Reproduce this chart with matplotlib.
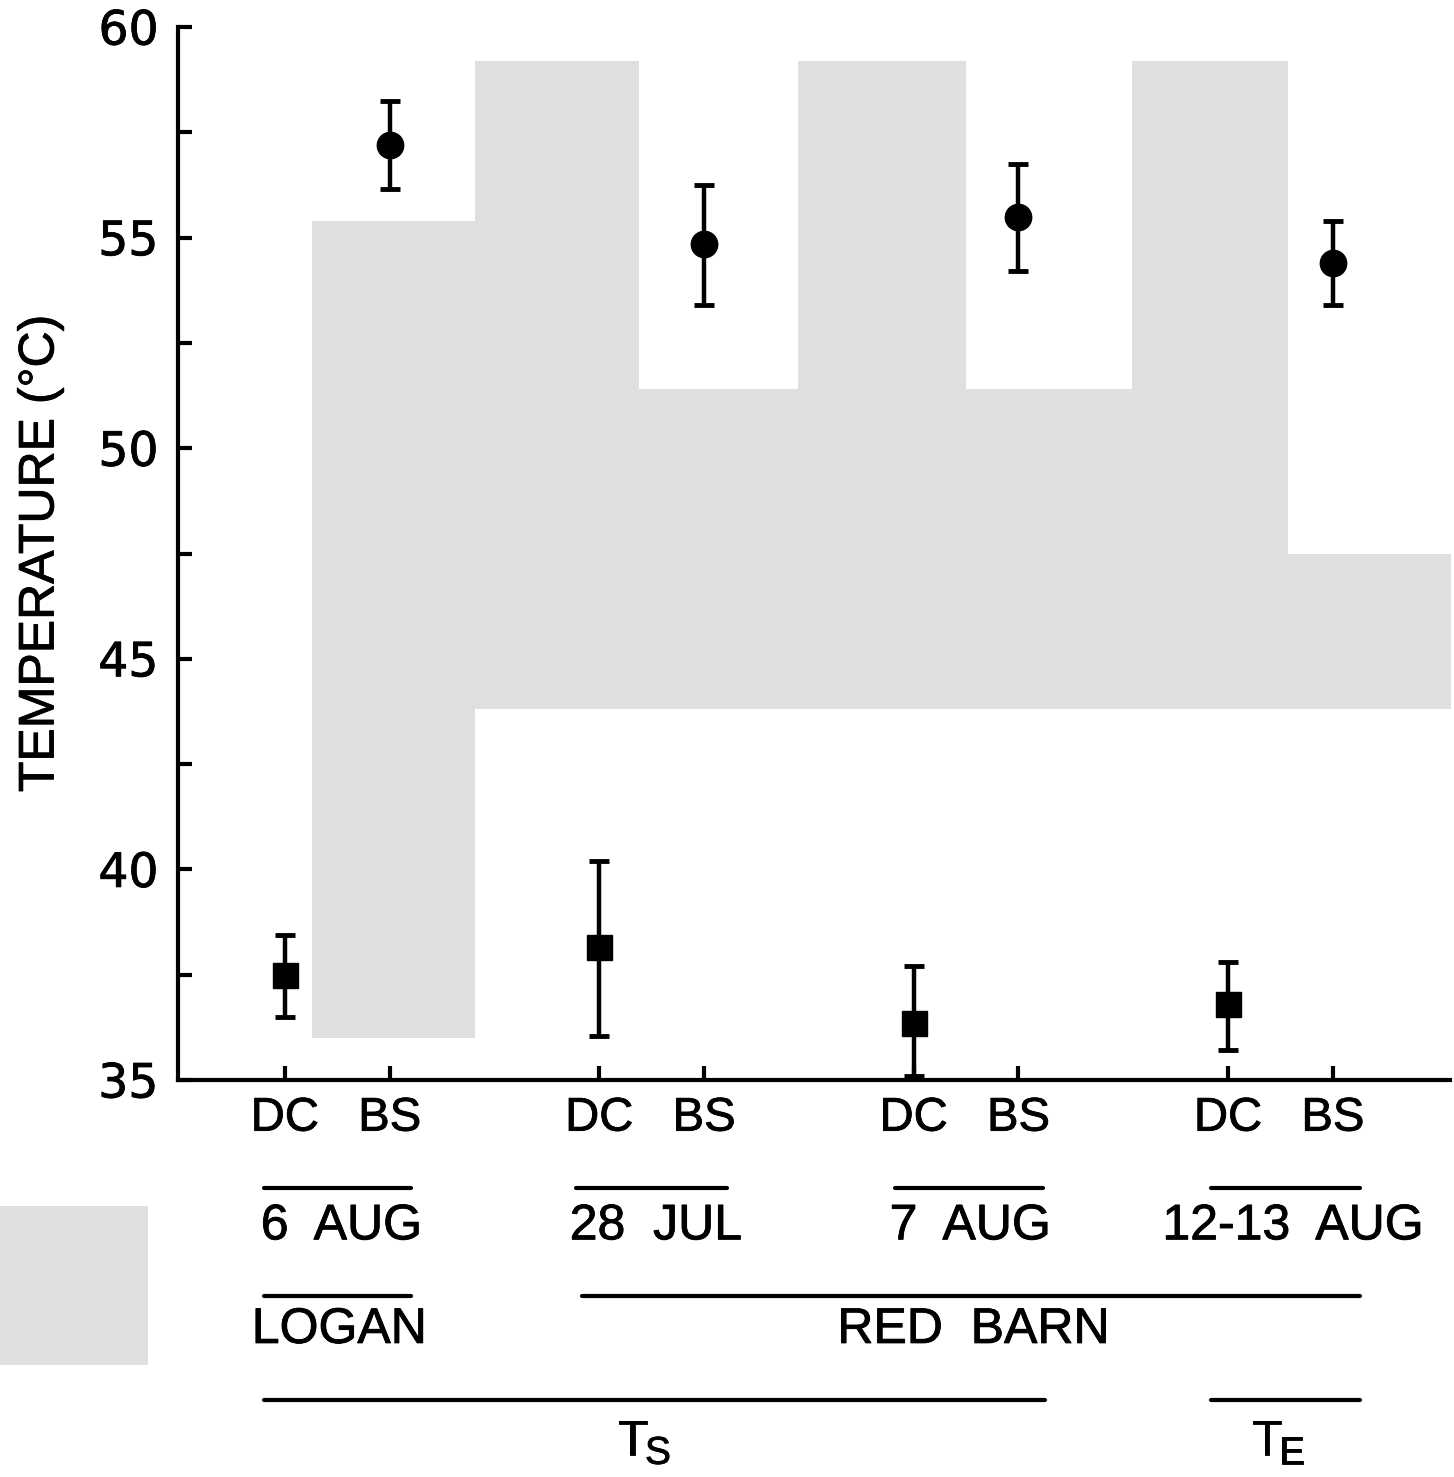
import numpy as np
import matplotlib.pyplot as plt
import matplotlib.transforms as mtransforms
import matplotlib.patheffects as pe

plt.rcParams['font.family'] = ['Liberation Sans', 'DejaVu Sans']

# positions of the sites on x (DC, BS pairs)
x_dc = [0, 3, 6, 9]
x_bs = [1, 4, 7, 10]
tick_pos = [0, 1, 3, 4, 6, 7, 9, 10]
tick_lab = ['DC', 'BS'] * 4

# DC values (squares)
dc_mean = [37.5, 38.15, 36.35, 36.8]
dc_lo = [36.5, 36.05, 35.1, 35.7]
dc_hi = [38.45, 40.2, 37.7, 37.8]

# BS values (circles)
bs_mean = [57.2, 54.85, 55.5, 54.4]
bs_lo = [56.15, 53.4, 54.2, 53.4]
bs_hi = [58.25, 56.25, 56.75, 55.4]

# shaded band (step edges, top, bottom)
band_x = [0.26, 1.81, 3.38, 4.9, 6.5, 8.08, 9.57, 11.15]
band_top = [55.4, 59.2, 51.4, 59.2, 51.4, 59.2, 47.5]
band_bot = [36.0, 43.8, 43.8, 43.8, 43.8, 43.8, 43.8]

dates = ['6  AUG', '28  JUL', '7  AUG', '12-13  AUG']
date_x = [0.54, 3.54, 6.54, 9.62]
date_lines = [(-0.2, 1.2), (2.78, 4.22), (5.82, 7.23), (8.84, 10.26)]
sites = ['LOGAN', 'RED  BARN']
site_x = [0.52, 6.57]
site_lines = [(-0.2, 1.2), (2.84, 10.26)]
temp_main = ['T', 'T']
temp_sub = ['S', 'E']
temp_x = [3.32, 9.37]
temp_lines = [(-0.2, 7.25), (8.84, 10.26)]

gray = '#dfdfdf'
fs = 34
thick = [pe.withStroke(linewidth=0.6, foreground='black')]

fig = plt.figure(figsize=(14.54, 14.77), dpi=100)
ax = fig.add_axes([0.1224, 0.2688, 0.875, 0.7129])

tops = band_top + [band_top[-1]]
bots = band_bot + [band_bot[-1]]
ax.fill_between(band_x, bots, tops, step='post', color=gray, lw=0, zorder=1)

ax.errorbar(x_dc, dc_mean,
            yerr=[np.array(dc_mean) - np.array(dc_lo), np.array(dc_hi) - np.array(dc_mean)],
            fmt='s', color='black', ms=18, elinewidth=3.2, capsize=7, capthick=3.5, zorder=3)
ax.errorbar(x_bs, bs_mean,
            yerr=[np.array(bs_mean) - np.array(bs_lo), np.array(bs_hi) - np.array(bs_mean)],
            fmt='o', color='black', ms=19, elinewidth=3.2, capsize=7, capthick=3.5, zorder=3)

ax.set_xlim(-1.02, 11.12)
ax.set_ylim(35, 60)
ax.set_yticks([35, 40, 45, 50, 55, 60])
ax.set_yticks([37.5, 42.5, 47.5, 52.5, 57.5], minor=True)
ax.set_xticks(tick_pos)
ax.set_xticklabels(tick_lab)
ax.tick_params(axis='both', which='both', direction='in', length=10, width=3,
               labelsize=fs, pad=14)
ax.tick_params(axis='x', pad=12)
for lab in ax.get_yticklabels():
    lab.set_family('DejaVu Sans')
    lab.set_path_effects(thick)
for lab in ax.get_xticklabels():
    lab.set_path_effects(thick)
for s in ['top', 'right']:
    ax.spines[s].set_visible(False)
for s in ['left', 'bottom']:
    ax.spines[s].set_linewidth(3)
ax.set_ylabel('TEMPERATURE (°C)', fontsize=36, path_effects=thick)
ax.yaxis.set_label_coords(-0.09, 0.5)

trans = mtransforms.blended_transform_factory(ax.transData, ax.transAxes)

def hlines(lines, yline):
    for (a, b) in lines:
        ax.plot([a, b], [yline, yline], color='black', lw=3, transform=trans,
                clip_on=False, solid_capstyle='round')

hlines(date_lines, -0.1026)
for lab, xx in zip(dates, date_x):
    ax.text(xx, -0.139, lab, transform=trans, ha='center', va='center',
            fontsize=36, path_effects=thick)

hlines(site_lines, -0.205)
for lab, xx in zip(sites, site_x):
    ax.text(xx, -0.2374, lab, transform=trans, ha='center', va='center',
            fontsize=36, path_effects=thick)

hlines(temp_lines, -0.304)
for m, sub, xx in zip(temp_main, temp_sub, temp_x):
    ax.text(xx, -0.322, m, transform=trans, ha='center', va='top',
            fontsize=36, path_effects=thick)
    ax.text(xx + 0.24, -0.338, sub, transform=trans, ha='center', va='top',
            fontsize=28, path_effects=thick)

# gray swatch at lower left
fig.patches.append(plt.Rectangle((0, 0.0758), 0.102, 0.108, transform=fig.transFigure,
                                 color=gray, lw=0, zorder=0))

fig.savefig('out.png', dpi=100)
